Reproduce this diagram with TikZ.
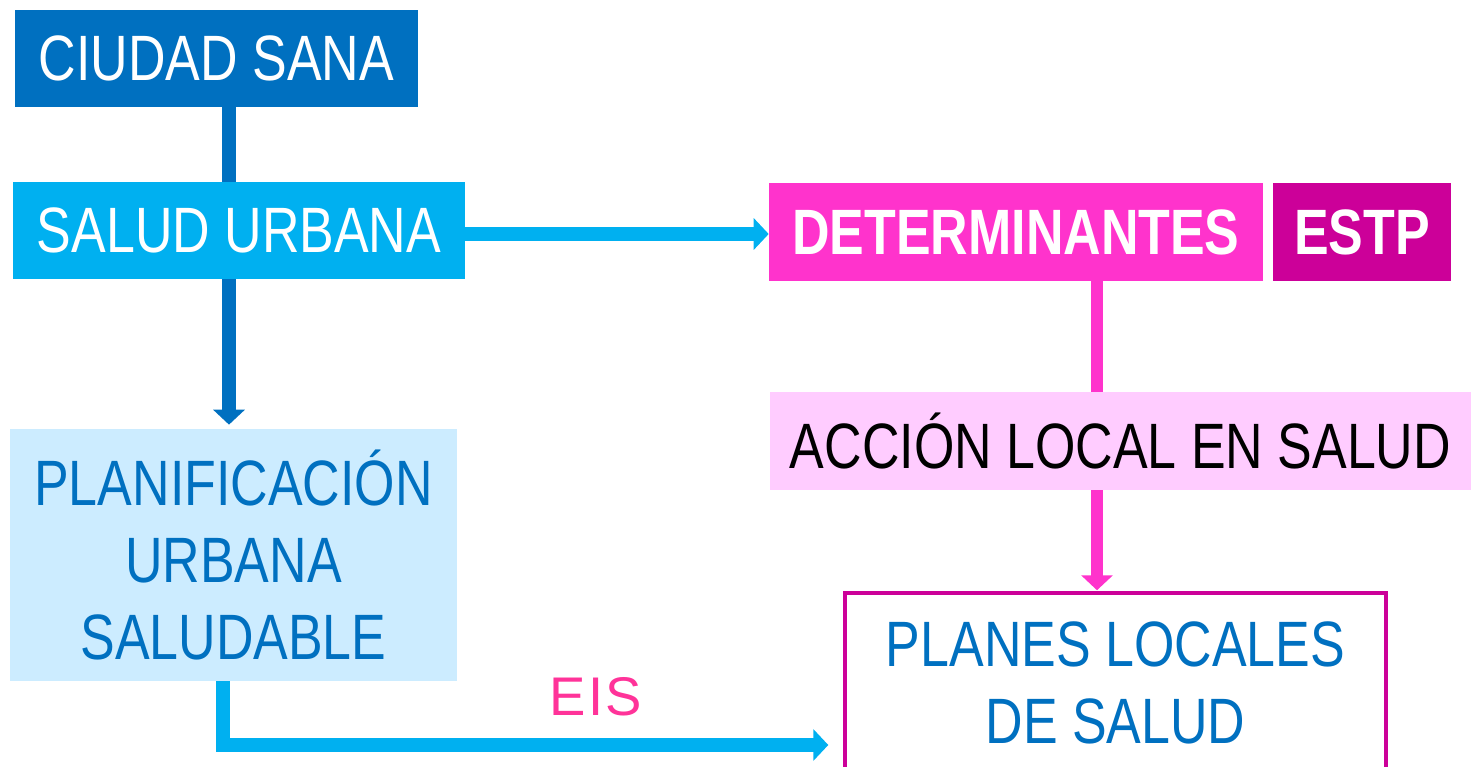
\documentclass[tikz,border=0pt]{standalone}
\usepackage{fontspec}
\setmainfont{Liberation Sans}[FakeStretch=0.81]
\newfontfamily\eisfont{Liberation Sans}[LetterSpace=4]
\usetikzlibrary{arrows.meta, positioning, calc}
\definecolor{csblue}{HTML}{0070C0}
\definecolor{cscyan}{HTML}{00B0F0}
\definecolor{cspink}{HTML}{FF33CC}
\definecolor{csmagenta}{HTML}{CC0099}
\definecolor{cslightpink}{HTML}{FFCCFF}
\definecolor{cslightblue}{HTML}{CCECFF}
\definecolor{cseis}{HTML}{FF3399}

\begin{document}
\begin{tikzpicture}[
  x=0.02cm, y=-0.02cm,
  every node/.style={font=\fontsize{36.5}{44}\selectfont},
  block/.style={rectangle, inner sep=0pt, minimum height=1.94cm, align=center},
  boldblock/.style={block, text=white, font=\fontsize{36.5}{44}\selectfont\bfseries},
  link/.style={line width=0.28cm},
  linkarrow/.style={link, -{Triangle[width=0.62cm, length=0.3cm]}},
]
\useasboundingbox (0,0) rectangle (1471,767);

\node[block, fill=csblue, text=white, minimum width=8.06cm] (ciudad) at (216.5, 58.5) {CIUDAD SANA};
\node[block, fill=cscyan, text=white, minimum width=9.04cm] (salud) at (239, 230.5) {SALUD URBANA};
\node[boldblock, fill=cspink, minimum width=9.88cm, minimum height=1.96cm] (determ) at (1016, 232) {DETERMINANTES};
\node[boldblock, fill=csmagenta, minimum width=3.56cm, minimum height=1.96cm] (estp) at (1362, 232) {ESTP};
\node[block, fill=cslightpink, text=black, minimum width=14.02cm, minimum height=1.96cm] (accion) at (1120.5, 441) {ACCIÓN LOCAL EN SALUD};
\node[block, fill=cslightblue, text=csblue, minimum width=8.94cm, minimum height=5.04cm] (planif) at (233.5, 555) {PLANIFICACIÓN\\URBANA\\SALUDABLE};
\node[block, draw=csmagenta, line width=2pt, fill=white, text=csblue, minimum width=10.82cm, minimum height=3.6cm] (planes) at (1115.5, 683) {PLANES LOCALES\\DE SALUD};

\node[text=cseis, font=\eisfont\fontsize{31}{36}\selectfont] (eis) at (596, 697) {EIS};

% connectors
\coordinate (trunk) at (229, 0);
\coordinate (pinkx) at (1097, 0);
\coordinate (eisbend) at (223, 745);

\draw[link, csblue] (ciudad.south -| trunk) -- (salud.north -| trunk);
\draw[linkarrow, csblue] (salud.south -| trunk) -- ([yshift=0.08cm]planif.north -| trunk);
\draw[linkarrow, cscyan, line width=0.3cm] ([yshift=-0.07cm]salud.east) -- ([yshift=-0.07cm]salud.east -| determ.west);
\draw[link, cspink, line width=0.25cm] (determ.south -| pinkx) -- (accion.north -| pinkx);
\draw[linkarrow, cspink, line width=0.25cm] (accion.south -| pinkx) -- ([yshift=0.02cm]planes.north -| pinkx);
\draw[linkarrow, cscyan] (planif.south -| eisbend) -- (eisbend) -- ([xshift=-0.3cm]eisbend -| planes.west);
\end{tikzpicture}
\end{document}
